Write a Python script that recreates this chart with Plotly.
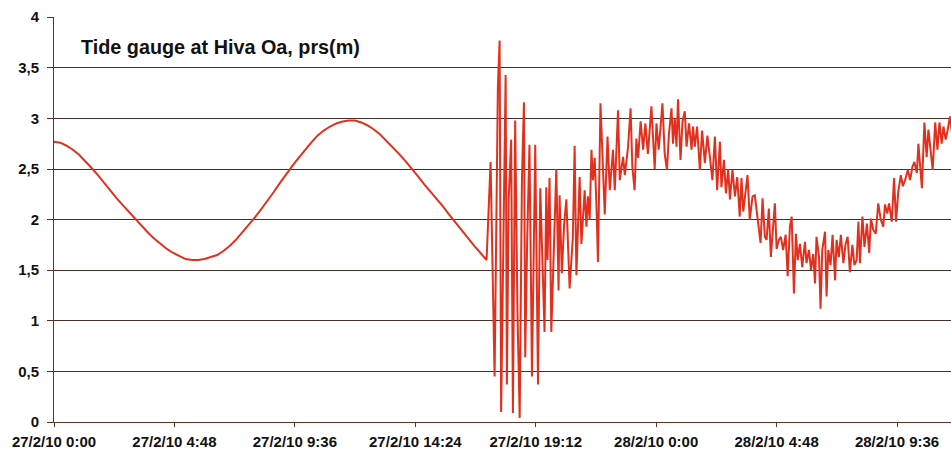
import plotly.graph_objects as go

# ---- data (time in hours since 27/2/10 0:00, level in m) ----
tide_hours = [0, 0.25, 0.5, 0.75, 1.0, 1.25, 1.5, 1.75, 2.0, 2.25, 2.5, 2.75, 3.0, 3.25,
              3.5, 3.75, 4.0, 4.25, 4.5, 4.75, 5.0, 5.25, 5.5, 5.75, 6.0, 6.25, 6.5, 6.75,
              7.0, 7.25, 7.5, 7.75, 8.0, 8.25, 8.5, 8.75, 9.0, 9.25, 9.5, 9.75, 10.0,
              10.25, 10.5, 10.75, 11.0, 11.25, 11.5, 11.75, 12.0, 12.25, 12.5, 12.75,
              13.0, 13.25, 13.5, 13.75, 14.0, 14.25, 14.5, 14.75, 15.0, 15.25, 15.5,
              15.75, 16.0, 16.25, 16.5, 16.75, 17.0, 17.24]
tide_level = [2.77, 2.76, 2.73, 2.69, 2.64, 2.58, 2.51, 2.44, 2.36, 2.29, 2.21, 2.14,
              2.07, 2.00, 1.94, 1.87, 1.81, 1.76, 1.71, 1.67, 1.64, 1.61, 1.60, 1.60,
              1.61, 1.63, 1.65, 1.69, 1.74, 1.80, 1.87, 1.94, 2.02, 2.10, 2.18, 2.27,
              2.36, 2.45, 2.53, 2.61, 2.69, 2.76, 2.83, 2.88, 2.92, 2.95, 2.97, 2.98,
              2.98, 2.96, 2.93, 2.89, 2.84, 2.78, 2.72, 2.65, 2.58, 2.51, 2.43, 2.35,
              2.28, 2.20, 2.13, 2.05, 1.97, 1.89, 1.82, 1.74, 1.67, 1.60]

tsunami_hours = [
    17.40, 17.56, 17.69, 17.76, 17.82, 17.92, 18.00, 18.05, 18.12, 18.22, 18.29, 18.38,
    18.47, 18.56, 18.65, 18.73, 18.78, 18.86, 18.95, 19.05, 19.18, 19.29, 19.38, 19.55,
    19.62, 19.67, 19.75, 19.82, 20.02, 20.11,
    20.15, 20.24, 20.33, 20.42, 20.55, 20.68, 20.75, 20.82, 20.95, 21.02, 21.15, 21.22,
    21.28, 21.35, 21.42, 21.48, 21.55, 21.62, 21.68, 21.78, 21.88, 21.95, 22.06, 22.15,
    22.28, 22.35, 22.48, 22.55, 22.68, 22.75, 22.88, 22.98, 23.05, 23.14, 23.21, 23.28,
    23.38, 23.48, 23.57, 23.67, 23.81, 23.90, 23.94, 24.01, 24.10,
    24.25, 24.34, 24.43, 24.51, 24.61, 24.67, 24.74, 24.81, 24.87, 24.97, 25.05, 25.14,
    25.21, 25.31, 25.41, 25.47, 25.54, 25.63, 25.74, 25.83, 25.94, 26.04, 26.14, 26.24,
    26.34, 26.43, 26.54, 26.60, 26.70, 26.78, 26.87, 26.94, 27.04, 27.14, 27.23, 27.33,
    27.40, 27.47, 27.57, 27.64, 27.73, 27.84, 27.93, 28.00, 28.06, 28.16, 28.24, 28.33,
    28.40, 28.49, 28.57, 28.66, 28.73, 28.80, 28.89, 28.97, 29.06, 29.16, 29.24, 29.33,
    29.40, 29.49, 29.57, 29.64, 29.73, 29.82, 29.93, 29.99, 30.09, 30.17, 30.26, 30.33,
    30.39, 30.49, 30.55, 30.62, 30.73, 30.79, 30.86, 30.95, 31.03, 31.13, 31.19, 31.28,
    31.36, 31.46, 31.55, 31.63, 31.72, 31.82, 31.90, 31.99,
    32.06, 32.12, 32.22, 32.30, 32.40, 32.49, 32.56, 32.65, 32.75, 32.85, 32.95, 33.05,
    33.12, 33.21, 33.28, 33.39, 33.48, 33.56, 33.65, 33.75, 33.83, 33.92, 34.03, 34.12,
    34.21, 34.29, 34.39, 34.45, 34.52, 34.59, 34.69, 34.78, 34.85, 34.94, 35.02, 35.12,
    35.21, 35.29, 35.38, 35.45, 35.54, 35.62, 35.71, 35.79]
tsunami_level = [
    2.57, 0.45, 3.31, 3.77, 0.10, 1.90, 3.43, 0.37, 2.20, 2.79, 0.09, 2.98,
    1.10, 0.04, 2.40, 3.16, 0.64, 1.80, 2.74, 0.45, 2.74, 0.37, 2.31, 0.89,
    2.32, 1.60, 2.41, 0.89, 2.50, 1.30,
    2.24, 1.47, 1.95, 2.20, 1.32, 1.83, 2.73, 1.45, 2.42, 1.76, 2.29, 1.93,
    2.23, 2.00, 2.69, 2.39, 2.61, 2.13, 1.58, 3.15, 2.42, 2.05, 2.82, 2.29,
    2.69, 2.29, 3.08, 2.39, 2.62, 2.44, 2.72, 3.10, 2.52, 2.29, 2.80, 2.61,
    2.97, 2.69, 2.95, 2.65, 3.12, 2.73, 2.50, 2.95, 2.69,
    3.15, 2.65, 2.49, 2.85, 3.10, 2.75, 3.00, 2.72, 3.19, 2.59, 2.97, 3.07,
    2.72, 2.95, 2.69, 2.92, 2.72, 2.92, 2.49, 2.88, 2.56, 2.83, 2.62, 2.39,
    2.82, 2.29, 2.77, 2.32, 2.59, 2.26, 2.50, 2.20, 2.49, 2.23, 2.42, 2.03,
    2.41, 2.08, 2.29, 2.44, 2.00, 2.23, 2.24, 2.08, 1.97, 1.77, 2.21, 1.83,
    1.80, 2.11, 1.63, 1.99, 2.16, 1.71, 1.80, 1.83, 1.70, 1.85, 1.44, 1.93,
    2.03, 1.27, 1.86, 1.60, 1.76, 1.53, 1.78, 1.57, 1.70, 1.50, 1.66, 1.37,
    1.83, 1.63, 1.12, 1.70, 1.88, 1.24, 1.70, 1.55, 1.85, 1.40, 1.80, 1.63,
    1.85, 1.57, 1.76, 1.83, 1.48, 1.75, 1.55, 1.60,
    1.98, 1.57, 2.03, 1.73, 1.96, 1.67, 2.01, 1.90, 1.86, 2.16, 2.00, 1.93,
    2.15, 2.06, 2.16, 1.98, 2.41, 1.98, 2.28, 2.44, 2.33, 2.39, 2.49, 2.39,
    2.52, 2.57, 2.46, 2.75, 2.54, 2.31, 2.96, 2.62, 2.89, 2.64, 2.49, 2.96,
    2.69, 2.96, 2.75, 2.92, 2.79, 2.89, 3.02, 2.85]

x_tick_hours = [0, 4.8, 9.6, 14.4, 19.2, 24.0, 28.8, 33.6]
x_tick_labels = ["27/2/10 0:00", "27/2/10 4:48", "27/2/10 9:36", "27/2/10 14:24",
                 "27/2/10 19:12", "28/2/10 0:00", "28/2/10 4:48", "28/2/10 9:36"]
y_tick_values = [0, 0.5, 1, 1.5, 2, 2.5, 3, 3.5, 4]
y_tick_labels = ["0", "0,5", "1", "1,5", "2", "2,5", "3", "3,5", "4"]
title_text = "Tide gauge at Hiva Oa, prs(m)"

hours = tide_hours + tsunami_hours
level = tide_level + tsunami_level

fig = go.Figure()
fig.add_trace(go.Scatter(x=hours, y=level, mode="lines",
                         line=dict(color="#e2301f", width=2),
                         hoverinfo="skip", showlegend=False))

font_family = "Liberation Sans, Arial, sans-serif"
fig.update_layout(
    width=951, height=454,
    margin=dict(l=54, r=0, t=17, b=32),
    paper_bgcolor="white", plot_bgcolor="white",
    showlegend=False,
    font=dict(family=font_family, size=15, color="#111111"),
    annotations=[dict(text="<b>" + title_text + "</b>", xref="paper", yref="paper",
                      x=0.028, y=0.926, xanchor="left", yanchor="middle",
                      showarrow=False, font=dict(size=19.8, color="#111111"))],
)
fig.update_xaxes(range=[0, 35.75], tickvals=x_tick_hours,
                 ticktext=["<b>" + t + "</b>" for t in x_tick_labels],
                 showgrid=False, zeroline=False, showline=True, linecolor="#6a3026",
                 linewidth=1, ticks="outside", ticklen=4, tickcolor="#6a3026",
                 tickfont=dict(size=15, color="#111111"), ticklabelstandoff=2)
fig.update_yaxes(range=[0, 4.002], tickvals=y_tick_values,
                 ticktext=["<b>" + t + "</b>" for t in y_tick_labels],
                 showgrid=True, gridcolor="#47302b", gridwidth=1, zeroline=False,
                 showline=True, linecolor="#6a3026", linewidth=1, ticks="outside",
                 ticklen=6, tickcolor="#5a2a22", tickfont=dict(size=15, color="#111111"),
                 ticklabelstandoff=5)

fig.write_html("out.html", config={"displayModeBar": False},
               post_script="document.body.style.margin='0';")
